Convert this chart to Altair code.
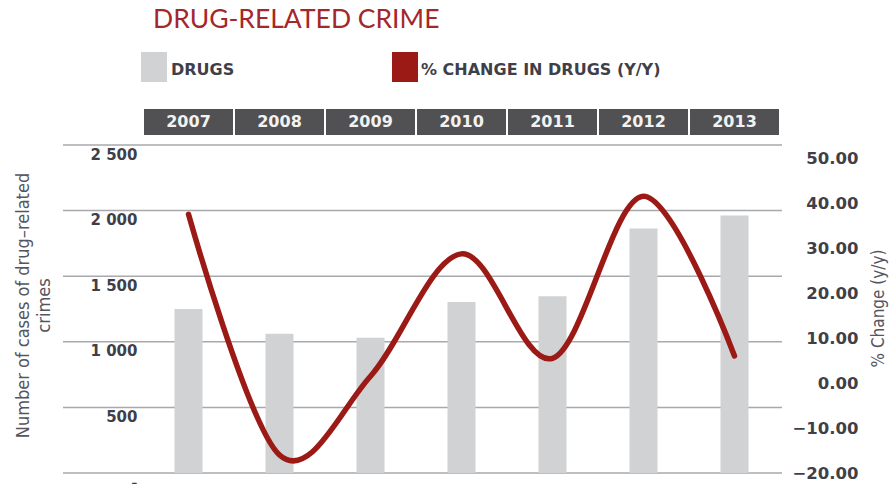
import altair as alt
import pandas as pd

# ---- data ----
years = ["2007", "2008", "2009", "2010", "2011", "2012", "2013"]
drugs = [1250, 1061, 1030, 1303, 1348, 1864, 1962]
pct_change = [37.5, -16.0, 1.5, 28.7, 5.5, 41.5, 6.0]
left_ticks = [0, 500, 1000, 1500, 2000, 2500]
right_ticks = [-20, -10, 0, 10, 20, 30, 40, 50]
title_text = ["DRUG-RELATED CRIME"]
legend_bar = ["DRUGS"]
legend_line = ["% CHANGE IN DRUGS (Y/Y)"]
y_left_title = ["Number of cases of drug\u2013related", "crimes"]
y_right_title = "% Change (y/y)"

df = pd.DataFrame({"year": years, "drugs": drugs, "pct": pct_change})
grid_df = pd.DataFrame({"v": left_ticks})

TEXT = "#3f3f4a"
WIDE = "DejaVu Sans"
NARROW = "Liberation Sans Narrow, DejaVu Sans Condensed, Roboto"

x = alt.X("year:N", sort=years, axis=None,
          scale=alt.Scale(paddingInner=0, paddingOuter=0))
left_scale = alt.Scale(domain=[0, 2500], nice=False, zero=True)

left_axis = alt.Axis(
    values=left_ticks,
    labelExpr="datum.value == 0 ? '-' : replace(format(datum.value, ','), ',', ' ')",
    domain=False, ticks=False, grid=False,
    labelPadding=6, labelOffset=9, labelFontSize=15, labelColor=TEXT,
    labelFont=WIDE, labelFontWeight="bold",
    title=y_left_title, titleFont=NARROW, titleFontSize=18, titleFontWeight="normal",
    titleColor="#555560", titleAngle=270, titleX=-120, titleY=160,
    titleAlign="center", titleBaseline="middle", titleLineHeight=21,
)

right_axis = alt.Axis(
    orient="right", values=right_ticks, format=".2f",
    domain=False, ticks=False, grid=False,
    labelAlign="right", labelPadding=78, labelFontSize=16.5, labelColor=TEXT,
    labelFont=WIDE, labelFontWeight="bold",
    title=y_right_title, titleFont=NARROW, titleFontSize=17, titleFontWeight="normal",
    titleColor="#555560", titleAngle=270, titleX=98, titleY=163,
    titleAlign="center", titleBaseline="middle",
)

grid = alt.Chart(grid_df).mark_rule(color="#a9a9ad", strokeWidth=1.5).encode(
    y=alt.Y("v:Q", scale=left_scale, axis=left_axis),
    x=alt.value(-80), x2=alt.value(639),
)

bars = alt.Chart(df).mark_bar(width=28, color="#d1d2d4").encode(
    x=x, y=alt.Y("drugs:Q", scale=left_scale, axis=left_axis),
)

header_rect = alt.Chart(df).mark_rect(fill="#515153", stroke="white", strokeWidth=2).encode(
    x=x, y=alt.value(-37), y2=alt.value(-9),
)
header_text = alt.Chart(df).mark_text(
    color="#f2f2f2", fontSize=16, fontWeight="bold", font=WIDE, baseline="middle"
).encode(x=x, text="year:N", y=alt.value(-23))

title = alt.Chart(pd.DataFrame({"t": title_text})).mark_text(
    align="left", baseline="middle", fontSize=26.5, color="#a4272c", font="Lato"
).encode(text="t:N", x=alt.value(10), y=alt.value(-125))

leg1_sw = alt.Chart(pd.DataFrame({"t": legend_bar})).mark_rect(fill="#d1d2d4").encode(
    x=alt.value(-2), x2=alt.value(24), y=alt.value(-93), y2=alt.value(-63))
leg1_tx = alt.Chart(pd.DataFrame({"t": legend_bar})).mark_text(
    align="left", baseline="middle", fontSize=16, fontWeight="bold", color=TEXT, font=WIDE
).encode(text="t:N", x=alt.value(28), y=alt.value(-75))
leg2_sw = alt.Chart(pd.DataFrame({"t": legend_line})).mark_rect(fill="#9b1a16").encode(
    x=alt.value(249), x2=alt.value(275), y=alt.value(-93), y2=alt.value(-63))
leg2_tx = alt.Chart(pd.DataFrame({"t": legend_line})).mark_text(
    align="left", baseline="middle", fontSize=16, fontWeight="bold", color=TEXT, font=WIDE
).encode(text="t:N", x=alt.value(278), y=alt.value(-75))

line = alt.Chart(df).mark_line(
    interpolate="cardinal", color="#9b1a16", strokeWidth=5.5, strokeCap="round"
).encode(
    x=x,
    y=alt.Y("pct:Q", scale=alt.Scale(domain=[-20, 52.9], nice=False, zero=False), axis=right_axis),
)

left_layer = alt.layer(grid, bars, header_rect, header_text, title,
                       leg1_sw, leg1_tx, leg2_sw, leg2_tx)

chart = alt.layer(left_layer, line).resolve_scale(y="independent").properties(
    width=637, height=328,
    autosize=alt.AutoSizeParams(type="none"),
    padding={"left": 143, "top": 145, "right": 111, "bottom": 11},
).configure_view(strokeWidth=0)

chart.save("out.html", embed_options={"renderer": "svg", "actions": False})
